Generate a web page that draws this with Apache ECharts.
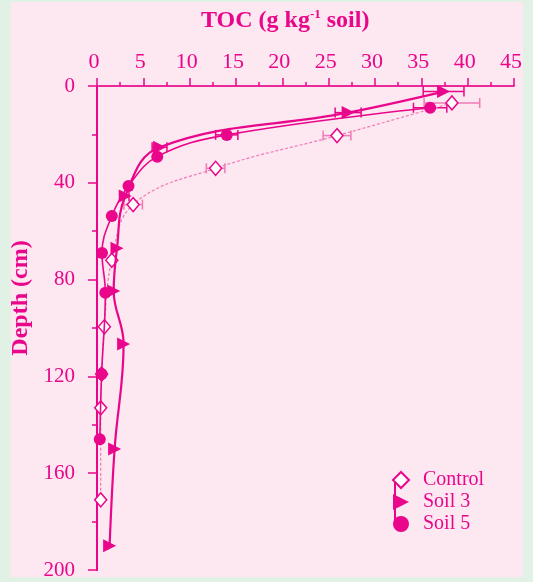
<!DOCTYPE html>
<html><head><meta charset="utf-8">
<script src="https://cdn.jsdelivr.net/npm/echarts@6/dist/echarts.min.js"></script>
<style>html,body{margin:0;padding:0;background:#e2f1e6;}#c{width:533px;height:582px;}</style>
</head><body><div id="c"></div>
<script>
// ---- data ----
const seriesNames = ['Control', 'Soil 3', 'Soil 5'];
const controlDepth = [7, 20.5, 34, 49, 72, 99.5, 119, 133, 171];
const controlToc   = [38.3, 25.9, 12.8, 3.9, 1.6, 0.8, 0.5, 0.4, 0.4];
const controlErr   = [3.0, 1.5, 1.0, 1.0, 0, 0, 0, 0, 0];
const soil3Depth = [2.3, 11, 25.3, 45.5, 67, 84.7, 106.6, 150, 190];
const soil3Toc   = [37.4, 27.1, 6.75, 3.05, 2.16, 1.8, 2.87, 1.9, 1.36];
const soil3Err   = [2.2, 1.4, 0.8, 0.4, 0, 0, 0, 0, 0];
const soil5Depth = [9, 20.2, 29.2, 41.3, 53.7, 69, 85.4, 119, 146];
const soil5Toc   = [35.95, 14.0, 6.5, 3.4, 1.6, 0.54, 0.9, 0.5, 0.3];
const soil5Err   = [1.8, 1.2, 0, 0, 0, 0, 0, 0, 0];
const xMin = 0, xMax = 45, xStep = 5;
const yMin = 0, yMax = 200, yStep = 40;
const xTitle = 'TOC (g kg{sup|-1} soil)';
const yTitle = 'Depth (cm)';

// ---- style ----
const MAG = '#e9068b';
const PINK_LINE = '#f07ab6';
const FONT = "'Liberation Serif', 'DejaVu Serif', serif";
const TRI = 'path://M0,0 L12,6 L0,12 Z';

function pairs(xs, ys) { return xs.map((x, i) => [x, ys[i]]); }
function errData(xs, ys, es) { return xs.map((x, i) => [x, ys[i], es[i]]); }

function errSeries(data, color) {
  return {
    type: 'custom', xAxisIndex: 0, yAxisIndex: 0, z: 1, silent: true,
    data: data,
    renderItem: function (params, api) {
      const x = api.value(0), y = api.value(1), e = api.value(2);
      if (!e) return null;
      const a = api.coord([x - e, y]), b = api.coord([x + e, y]);
      const st = { stroke: color, lineWidth: 1.5 };
      return { type: 'group', children: [
        { type: 'line', shape: { x1: a[0], y1: a[1], x2: b[0], y2: b[1] }, style: st },
        { type: 'line', shape: { x1: a[0], y1: a[1] - 5, x2: a[0], y2: a[1] + 5 }, style: st },
        { type: 'line', shape: { x1: b[0], y1: b[1] - 5, x2: b[0], y2: b[1] + 5 }, style: st }
      ]};
    }
  };
}

const chart = echarts.init(document.getElementById('c'));
const common = { min: xMin, max: xMax, interval: xStep, type: 'value' };
chart.setOption({
  animation: false,
  graphic: {
    elements: [
      { type: 'rect', z: -10, shape: { x: 11, y: 2, width: 512, height: 575 }, style: { fill: '#fde7f0' } },
      { type: 'polyline', z: 100, silent: true, shape: { points: [[395, 482], [395, 526]] }, style: { stroke: MAG, lineWidth: 2, fill: null } }
    ]
  },
  title: {
    text: xTitle, left: 196, top: 3,
    textStyle: { fontFamily: FONT, fontWeight: 'bold', fontSize: 24, color: MAG,
      rich: { sup: { fontFamily: FONT, fontWeight: 'bold', fontSize: 13, color: MAG, padding: [0, 0, 12, 0] } } }
  },
  grid: { left: 97, right: 19, top: 86, bottom: 12 },
  xAxis: [
    Object.assign({}, common, {
      position: 'top',
      axisLine: { lineStyle: { color: PINK_LINE, width: 1.5 } },
      axisTick: { inside: false, length: 8, lineStyle: { color: MAG, width: 1.5 } },
      minorTick: { show: true, splitNumber: 2, length: 4, lineStyle: { color: MAG, width: 1.5 } },
      axisLabel: { fontFamily: FONT, fontSize: 22, color: MAG, margin: 13, padding: [0, 6, 0, 0] },
      splitLine: { show: false }
    }),
    Object.assign({}, common, {
      position: 'bottom',
      axisLine: { lineStyle: { color: MAG, width: 1.5 } },
      axisTick: { inside: true, length: 8, lineStyle: { color: MAG, width: 1.5 } },
      minorTick: { show: true, splitNumber: 2, length: 4, lineStyle: { color: MAG, width: 1.5 } },
      axisLabel: { show: false }, splitLine: { show: false }
    })
  ],
  yAxis: [
    { type: 'value', inverse: true, min: yMin, max: yMax, interval: yStep, position: 'left',
      name: yTitle, nameLocation: 'middle', nameGap: 62,
      nameTextStyle: { fontFamily: FONT, fontWeight: 'bold', fontSize: 24, color: MAG, padding: [0, 0, 0, 60] },
      axisLine: { show: true, lineStyle: { color: MAG, width: 1.5 } },
      axisTick: { inside: false, length: 9, lineStyle: { color: MAG, width: 1.5 } },
      minorTick: { show: true, splitNumber: 2, length: 4, lineStyle: { color: MAG, width: 1.5 } },
      axisLabel: { fontFamily: FONT, fontSize: 21, color: MAG, margin: 22 },
      splitLine: { show: false } },
    { type: 'value', inverse: true, min: yMin, max: yMax, interval: yStep, position: 'right',
      axisLine: { show: true, lineStyle: { color: MAG, width: 2 } },
      axisTick: { inside: true, length: 9, lineStyle: { color: MAG, width: 1.5 } },
      minorTick: { show: true, splitNumber: 2, length: 5, lineStyle: { color: MAG, width: 1.5 } },
      axisLabel: { show: false }, splitLine: { show: false } }
  ],
  legend: {
    orient: 'vertical', left: 387, top: 465, itemWidth: 16, itemHeight: 16, itemGap: 2,
    textStyle: { fontFamily: FONT, fontSize: 20, color: MAG, padding: [0, 0, 0, 9] },
    data: [
      { name: seriesNames[0], icon: 'diamond' },
      { name: seriesNames[1], icon: TRI },
      { name: seriesNames[2], icon: 'circle' }
    ]
  },
  series: [
    errSeries(errData(controlToc, controlDepth, controlErr), PINK_LINE),
    errSeries(errData(soil3Toc, soil3Depth, soil3Err), MAG),
    errSeries(errData(soil5Toc, soil5Depth, soil5Err), MAG),
    { name: seriesNames[0], type: 'line', smooth: 0.4, z: 2, data: pairs(controlToc, controlDepth),
      symbol: 'diamond', symbolSize: [12, 14],
      itemStyle: { color: '#ffffff', borderColor: MAG, borderWidth: 1.5 },
      lineStyle: { color: PINK_LINE, width: 1.2, type: [3, 2] } },
    { name: seriesNames[1], type: 'line', smooth: 0.4, z: 3, data: pairs(soil3Toc, soil3Depth),
      symbol: TRI, symbolSize: 13,
      itemStyle: { color: MAG },
      lineStyle: { color: MAG, width: 2.2 } },
    { name: seriesNames[2], type: 'line', smooth: 0.4, z: 3, data: pairs(soil5Toc, soil5Depth),
      symbol: 'circle', symbolSize: 12,
      itemStyle: { color: MAG },
      lineStyle: { color: MAG, width: 1.6 } }
  ]
});
</script></body></html>
